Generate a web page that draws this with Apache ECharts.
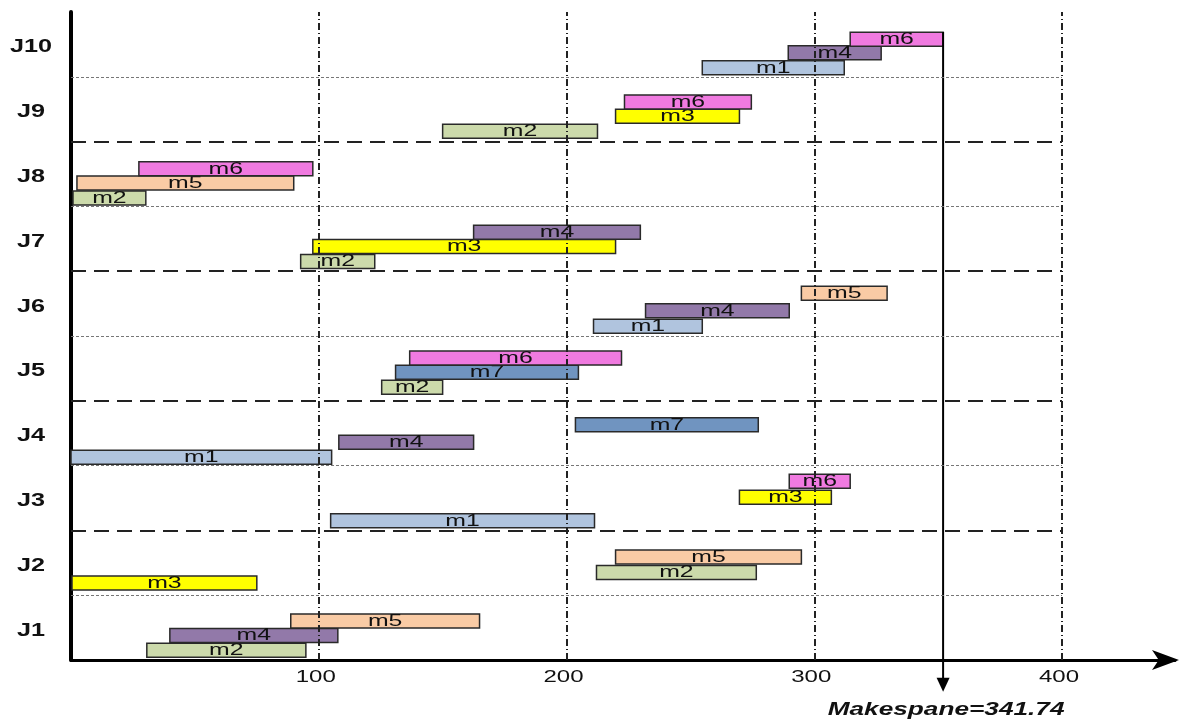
<!DOCTYPE html>
<html>
<head>
<meta charset="utf-8">
<script src="https://cdn.jsdelivr.net/npm/echarts@6/dist/echarts.min.js"></script>
<style>
  html, body { margin: 0; padding: 0; background: #fff; }
  #main { width: 1179px; height: 722px; }
</style>
</head>
<body>
<div id="main"></div>
<script>
// jobs and machines
var jobs = ['J1', 'J2', 'J3', 'J4', 'J5', 'J6', 'J7', 'J8', 'J9', 'J10'];
var machines = ['m1', 'm2', 'm3', 'm4', 'm5', 'm6', 'm7'];
var machineColors = ['#b0c4de', '#ccdaab', '#ffff00', '#9279a9', '#f9cba5', '#f07ae0', '#7094c0'];

// operations: job index, machine index, start, end, slot inside the job row (0 = bottom, 1 = top)
var opJob     = [0, 0, 0,   1, 1, 1,   2, 2, 2,   3, 3, 3,   4, 4, 4,   5, 5, 5,   6, 6, 6,   7, 7, 7,   8, 8, 8,   9, 9, 9];
var opMachine = [1, 3, 4,   2, 1, 4,   0, 2, 5,   0, 3, 6,   1, 6, 5,   0, 3, 4,   1, 2, 3,   1, 4, 5,   1, 2, 5,   0, 3, 5];
var opStart   = [30.6, 39.9, 88.7,   0.4, 212.1, 219.8,   104.8, 269.8, 289.9,   0, 108.1, 203.6,   125.4, 131.0, 136.7,
                 210.9, 231.9, 294.8,   92.7, 97.6, 162.5,   0.8, 2.4, 27.4,   150.0, 219.8, 223.4,   254.8, 289.5, 314.5];
var opEnd     = [94.8, 107.7, 164.9,   75.0, 276.6, 294.8,   211.3, 306.9, 314.5,   105.2, 162.5, 277.4,   150.0, 204.8, 222.2,
                 254.8, 289.9, 329.4,   122.6, 219.8, 229.8,   30.2, 89.9, 97.6,   212.5, 269.8, 274.6,   312.1, 327.0, 352.0];
var opSlot    = [0.15, 0.38, 0.60,   0.19, 0.35, 0.59,   0.15, 0.51, 0.76,   0.13, 0.36, 0.63,   0.21, 0.44, 0.66,
                 0.15, 0.39, 0.66,   0.15, 0.38, 0.60,   0.13, 0.36, 0.58,   0.16, 0.39, 0.61,   0.14, 0.37, 0.58];

// row separators and vertical grid
var dottedRows = [1, 3, 5, 7, 9];
var dashedRows = [2, 4, 6, 8];
var xTicks = [100, 200, 300, 400];

// makespan
var makespan = 341.74;
var makespanLineAt = 352;

var opData = [];
for (var i = 0; i < opJob.length; i++) {
  opData.push([opStart[i], opEnd[i], opJob[i] + opSlot[i], opMachine[i]]);
}

// the picture is stretched sideways, so texts get a horizontal scale
function stretchedText(x, y, text, font, sx) {
  return {
    type: 'text',
    x: x,
    y: y,
    scaleX: sx,
    style: { text: text, fill: '#111', font: font, align: 'center', verticalAlign: 'middle' }
  };
}

function renderOp(params, api) {
  var y = api.value(2);
  var p0 = api.coord([api.value(0), y]);
  var p1 = api.coord([api.value(1), y]);
  var h = 14;
  var m = api.value(3);
  return {
    type: 'group',
    children: [{
      type: 'rect',
      shape: { x: p0[0], y: p0[1] - h / 2, width: p1[0] - p0[0], height: h },
      style: { fill: machineColors[m], stroke: '#2a2a2a', lineWidth: 1.5 }
    }, stretchedText((p0[0] + p1[0]) / 2, p0[1] + 0.5, machines[m], '16px "Liberation Sans", Arial, sans-serif', 1.55)]
  };
}

function renderJobLabel(params, api) {
  var p = api.coord([api.value(0), api.value(1)]);
  return stretchedText(p[0] - 40, p[1] + 3, jobs[params.dataIndex], 'bold 18px "Liberation Sans", Arial, sans-serif', 1.4);
}

function renderTickLabel(params, api) {
  var p = api.coord([api.value(0), 0]);
  return stretchedText(p[0] - 3, p[1] + 18, String(api.value(0)), '16px "Liberation Sans", Arial, sans-serif', 1.5);
}

function renderMakespan(params, api) {
  var top = api.coord([api.value(0), api.value(1)]);
  var bottom = api.coord([api.value(0), api.value(2)]);
  return {
    type: 'group',
    children: [{
      type: 'line',
      shape: { x1: top[0], y1: top[1], x2: bottom[0], y2: bottom[1] - 6 },
      style: { stroke: '#000', lineWidth: 2 }
    }, {
      type: 'polygon',
      shape: { points: [[bottom[0] - 6.5, bottom[1] - 14], [bottom[0] + 6.5, bottom[1] - 14], [bottom[0], bottom[1]]] },
      style: { fill: '#000' }
    }, stretchedText(bottom[0] + 3, bottom[1] + 18, 'Makespane=' + makespan, 'italic bold 19px "Liberation Sans", Arial, sans-serif', 1.38)]
  };
}

var rowLines = [];
dottedRows.forEach(function (r) {
  rowLines.push([{ coord: [0, r], lineStyle: { color: '#777', width: 1, type: [3, 2] } }, { coord: [400, r] }]);
});
dashedRows.forEach(function (r) {
  rowLines.push([{ coord: [0, r], lineStyle: { color: '#222', width: 2, type: [15, 8] } }, { coord: [400, r] }]);
});
xTicks.forEach(function (t) {
  rowLines.push({ xAxis: t, lineStyle: { color: '#222', width: 2, type: [7, 3, 1, 3] } });
});

var myChart = echarts.init(document.getElementById('main'), null, { renderer: 'canvas' });

myChart.setOption({
  animation: false,
  backgroundColor: '#fff',
  grid: { left: 71, right: 4, top: 12, bottom: 62 },
  xAxis: {
    type: 'value',
    min: 0,
    max: 445.6,
    interval: 100,
    axisLine: {
      show: true,
      symbol: ['none', 'arrow'],
      symbolSize: [15, 27],
      symbolOffset: [0, 4],
      lineStyle: { color: '#000', width: 3 }
    },
    axisTick: { show: false },
    splitLine: { show: false },
    axisLabel: { show: false }
  },
  yAxis: {
    type: 'value',
    min: 0,
    max: 10,
    interval: 1,
    axisLine: { show: true, lineStyle: { color: '#000', width: 4 } },
    axisTick: { show: false },
    splitLine: { show: false },
    axisLabel: { show: false }
  },
  series: [{
    type: 'custom',
    name: 'grid',
    data: [],
    silent: true,
    markLine: {
      silent: true,
      symbol: ['none', 'none'],
      label: { show: false },
      data: rowLines
    }
  }, {
    type: 'custom',
    name: 'ops',
    renderItem: renderOp,
    encode: { x: [0, 1], y: 2 },
    data: opData,
    z: 3
  }, {
    type: 'custom',
    name: 'jobLabels',
    renderItem: renderJobLabel,
    clip: false,
    silent: true,
    data: jobs.map(function (j, k) { return [0, k + 0.5]; })
  }, {
    type: 'custom',
    name: 'tickLabels',
    renderItem: renderTickLabel,
    clip: false,
    silent: true,
    data: xTicks.map(function (t) { return [t]; })
  }, {
    type: 'custom',
    name: 'makespan',
    renderItem: renderMakespan,
    clip: false,
    encode: { x: 0, y: [1, 2] },
    data: [[makespanLineAt, 9.69, -0.49]],
    z: 4
  }]
});
</script>
</body>
</html>
